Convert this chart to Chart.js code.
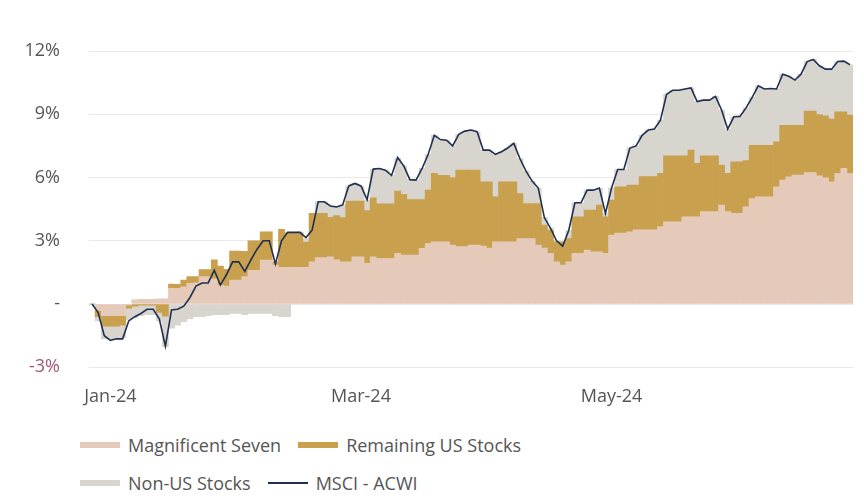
<!DOCTYPE html>
<html>
<head>
<meta charset="utf-8">
<title>Contribution to MSCI ACWI return, 2024</title>
<script src="https://cdn.jsdelivr.net/npm/chart.js@4.4.1/dist/chart.umd.min.js"></script>
<style>
  body { margin: 0; background: #fff; font-family: "Open Sans", sans-serif; }
  #wrap { position: relative; width: 864px; height: 503px; }
  #chartBox { position: absolute; left: 0; top: 0; width: 864px; height: 420px; }
  .legend-row { position: absolute; left: 80px; height: 24px; display: flex; align-items: center; font-size: 18px; color: #555; white-space: nowrap; }
  .legend-item { display: flex; align-items: center; margin-right: 17px; }
  .swatch { width: 40px; height: 6px; margin-right: 8px; }
  .swatch.line { height: 2px; }
</style>
</head>
<body>
<div id="wrap">
  <div id="chartBox"><canvas id="contribChart"></canvas></div>
  <div class="legend-row" id="legendRow1" style="top: 433px;"></div>
  <div class="legend-row" id="legendRow2" style="top: 471px;"></div>
</div>
<script>
// Trading days Jan-24 .. Jun-24, contribution to return (%)
const tickLabels = ['Jan-24', 'Mar-24', 'May-24'];
const tickIndex = [3, 44, 85];

const magnificentSeven = [
  0, -0.3, -0.55, -0.55, -0.55, -0.55, -0.05, 0.2, 0.22, 0.22,
  0.22, 0.25, 0.25, 0.74, 0.74, 0.82, 0.98, 1.0, 1.3, 1.3,
  1.2, 0.9, 0.85, 1.14, 1.14, 1.3, 1.6, 1.6, 2.09, 2.09,
  1.85, 1.74, 1.74, 1.74, 1.74, 1.74, 2.0, 2.2, 2.2, 2.24,
  2.1, 2.0, 2.0, 2.24, 2.24, 1.93, 2.24, 2.16, 2.16, 2.16,
  2.4, 2.32, 2.32, 2.32, 2.64, 2.87, 2.95, 2.95, 2.95, 2.8,
  2.72, 2.72, 2.8, 2.8, 2.75, 2.65, 2.95, 2.95, 2.95, 2.95,
  3.1, 3.1, 3.1, 2.8, 2.65, 2.4, 2.0, 1.85, 2.0, 2.4,
  2.4, 2.56, 2.48, 2.48, 2.4, 3.27, 3.36, 3.36, 3.43, 3.52,
  3.52, 3.52, 3.52, 3.67, 3.9, 3.9, 3.9, 4.14, 4.14, 4.14,
  4.38, 4.38, 4.38, 4.69, 4.38, 4.3, 4.3, 4.61, 5.0, 5.09,
  5.09, 5.09, 5.56, 5.88, 6.03, 6.11, 6.11, 6.24, 6.24, 6.08,
  5.99, 5.8, 6.19, 6.43, 6.19
];

const remainingUS = [
  0, -0.3, -0.5, -0.5, -0.5, -0.45, -0.15, -0.1, -0.05, -0.05,
  -0.05, -0.4, -0.57, 0.21, 0.2, 0.32, 0.32, 0.3, 0.34, 0.34,
  0.9, 0.9, 0.8, 1.37, 1.37, 1.2, 1.4, 1.4, 1.34, 1.34,
  0.15, 1.8, 1.64, 1.64, 1.64, 1.2, 2.3, 2.1, 2.1, 1.87,
  2.1, 2.1, 2.88, 2.64, 2.64, 2.5, 2.8, 2.59, 2.59, 2.59,
  2.96, 2.88, 2.63, 2.63, 2.31, 2.53, 3.25, 3.15, 3.15, 3.2,
  3.63, 3.63, 3.55, 3.55, 3.05, 3.15, 2.14, 2.85, 2.85, 2.85,
  2.14, 1.67, 1.67, 1.97, 1.09, 1.1, 0.95, 1.1, 1.1, 1.74,
  1.74, 1.89, 1.97, 2.21, 1.74, 1.66, 2.2, 2.2, 2.21, 2.12,
  2.52, 2.52, 2.52, 2.53, 3.13, 3.13, 3.13, 2.89, 3.16, 2.53,
  2.65, 2.65, 2.65, 1.9, 1.82, 2.45, 2.45, 2.19, 2.53, 2.44,
  2.44, 2.44, 2.13, 2.6, 2.45, 2.37, 2.37, 2.91, 2.91, 2.91,
  2.94, 2.97, 2.93, 2.69, 2.77
];

const nonUS = [
  0, -0.2, -0.6, -0.6, -0.6, -0.6, -0.55, -0.55, -0.5, -0.45,
  -0.45, -0.4, -1.45, -1.15, -1.0, -0.84, -0.7, -0.6, -0.6, -0.55,
  -0.5, -0.5, -0.5, -0.45, -0.45, -0.5, -0.45, -0.45, -0.45, -0.45,
  -0.55, -0.6, -0.6, 0, 0.05, 0.15, 0, 0.55, 0.55, 0.53,
  0.45, 0.6, 0.7, 0.85, 0.7, 0.5, 1.35, 1.68, 1.6, 1.35,
  1.55, 1.35, 0.95, 0.93, 1.48, 1.7, 1.8, 1.7, 1.67, 1.5,
  1.7, 1.85, 1.9, 1.82, 1.5, 1.5, 2.0, 1.42, 1.6, 1.82,
  1.66, 1.53, 1.06, 0.73, 0.36, 0.1, 0.05, 0, 0.4, 0.66,
  0.66, 0.95, 0.95, 0.8, 0.16, 0.57, 0.82, 0.82, 1.76, 1.86,
  1.96, 2.21, 2.26, 2.52, 2.92, 3.11, 3.11, 3.17, 2.95, 2.93,
  2.64, 2.64, 2.82, 2.6, 2.1, 2.13, 2.15, 2.5, 2.27, 2.82,
  2.67, 2.69, 2.51, 2.42, 2.32, 2.14, 2.42, 2.35, 2.45, 2.31,
  2.21, 2.37, 2.38, 2.4, 2.39
];

const msciAcwi = [
  0, -0.4, -1.5, -1.72, -1.65, -1.65, -0.8, -0.6, -0.45, -0.25,
  -0.25, -0.7, -2.0, -0.28, -0.25, -0.1, 0.3, 0.85, 1.0, 1.0,
  1.6, 0.9, 1.4, 2.0, 2.0, 1.55, 2.1, 2.6, 3.0, 3.0,
  1.9, 3.0, 3.4, 3.4, 3.4, 3.15, 3.5, 4.85, 4.85, 4.65,
  4.6, 4.7, 5.6, 5.72, 5.6, 4.95, 6.4, 6.43, 6.35, 6.1,
  6.95, 6.55, 5.9, 5.88, 6.43, 7.1, 8.0, 7.8, 7.77, 7.5,
  8.05, 8.2, 8.25, 8.17, 7.3, 7.3, 7.1, 7.22, 7.4, 7.62,
  6.9, 6.3, 5.83, 5.5, 4.1, 3.6, 3.0, 2.75, 3.5, 4.8,
  4.8, 5.4, 5.4, 5.5, 4.3, 5.5, 6.38, 6.38, 7.4, 7.5,
  8.0, 8.25, 8.3, 8.72, 9.95, 10.14, 10.14, 10.2, 10.25, 9.6,
  9.67, 9.67, 9.85, 9.2, 8.3, 8.88, 8.9, 9.3, 9.8, 10.35,
  10.2, 10.22, 10.2, 10.9, 10.8, 10.62, 10.9, 11.5, 11.6, 11.3,
  11.14, 11.14, 11.5, 11.52, 11.35
];

const days = msciAcwi.map((v, i) => i);

const textColor = '#555555';
const negColor = '#a0587a';

Chart.defaults.font.family = "'Open Sans', sans-serif";
Chart.defaults.font.size = 18;
Chart.defaults.color = textColor;

const ctx = document.getElementById('contribChart').getContext('2d');
const chart = new Chart(ctx, {
  data: {
    labels: days,
    datasets: [
      { type: 'bar', label: 'Magnificent Seven', data: magnificentSeven, backgroundColor: '#e5c9b9', order: 1, stack: 'contrib' },
      { type: 'bar', label: 'Remaining US Stocks', data: remainingUS, backgroundColor: '#c8a04e', order: 1, stack: 'contrib' },
      { type: 'bar', label: 'Non-US Stocks', data: nonUS, backgroundColor: '#d8d4ce', order: 1, stack: 'contrib' },
      { type: 'line', label: 'MSCI - ACWI', data: msciAcwi, borderColor: '#1f3052', borderWidth: 1.6,
        pointRadius: 0, tension: 0, fill: false, order: 0, stack: 'index' }
    ]
  },
  options: {
    responsive: true,
    maintainAspectRatio: false,
    animation: false,
    datasets: {
      bar: { barPercentage: 1, categoryPercentage: 1, borderWidth: 0 }
    },
    layout: { padding: { top: 51, right: 11, left: 0, bottom: 0 } },
    plugins: {
      legend: { display: false },
      tooltip: { enabled: false }
    },
    scales: {
      x: {
        stacked: true,
        grid: { display: false },
        border: { display: false },
        ticks: {
          autoSkip: false,
          maxRotation: 0,
          minRotation: 0,
          padding: 11,
          color: textColor,
          callback: function(val, idx) {
            const k = tickIndex.indexOf(idx);
            return k >= 0 ? tickLabels[k] : '';
          }
        },
        afterFit: function(scale) { scale.height = 52.7; }
      },
      y: {
        stacked: true,
        min: -3,
        max: 12,
        grid: { color: '#e9e9e9', lineWidth: 1, drawTicks: false },
        border: { display: false },
        ticks: {
          stepSize: 3,
          padding: 29,
          color: (c) => c.tick && c.tick.value < 0 ? negColor : textColor,
          callback: (v) => v === 0 ? '-' : v + '%'
        },
        afterFit: function(scale) { scale.width = 89; }
      }
    }
  }
});

// HTML legend, two rows like the original
const legendRows = [[0, 1], [2, 3]];
legendRows.forEach((row, r) => {
  const el = document.getElementById('legendRow' + (r + 1));
  row.forEach(di => {
    const ds = chart.data.datasets[di];
    const item = document.createElement('div');
    item.className = 'legend-item';
    const sw = document.createElement('span');
    sw.className = 'swatch' + (ds.type === 'line' ? ' line' : '');
    sw.style.background = ds.type === 'line' ? ds.borderColor : ds.backgroundColor;
    const txt = document.createElement('span');
    txt.textContent = ds.label;
    item.appendChild(sw);
    item.appendChild(txt);
    el.appendChild(item);
  });
});
</script>
</body>
</html>
